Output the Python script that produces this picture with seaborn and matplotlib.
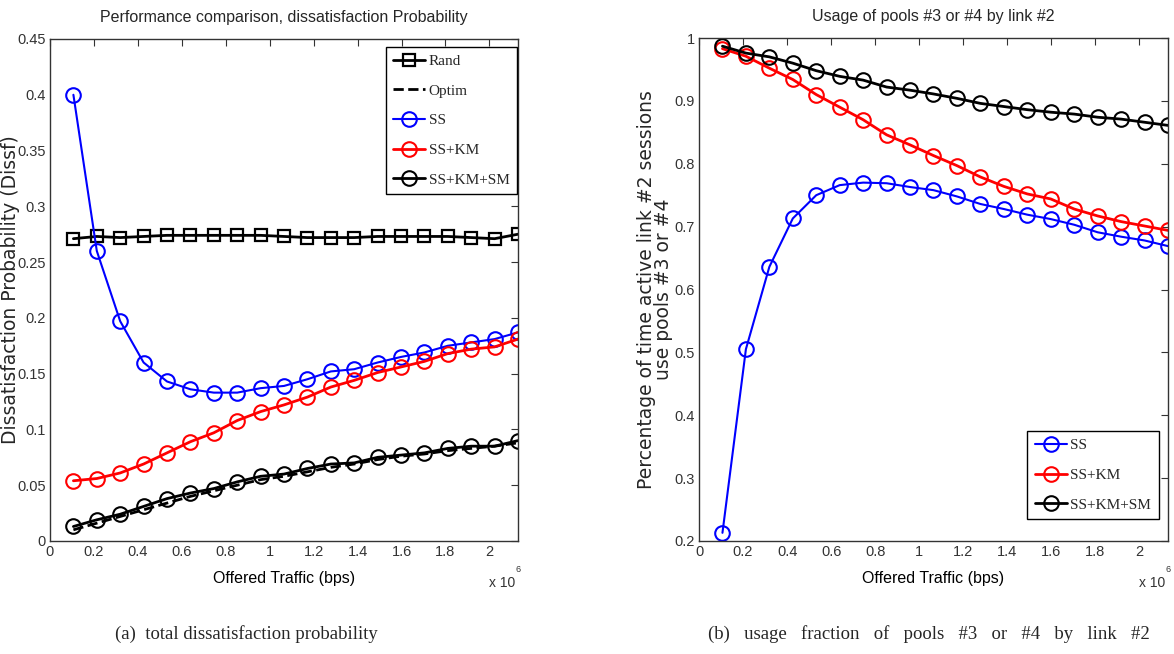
import numpy as np
import pandas as pd
import matplotlib
matplotlib.use("Agg")
import matplotlib.pyplot as plt
import seaborn as sns

# ---------------- data ----------------
traffic = [0.1065, 0.213, 0.3195, 0.426, 0.5325, 0.639, 0.7455, 0.852, 0.9585, 1.065,
           1.1715, 1.278, 1.3845, 1.491, 1.5975, 1.704, 1.8105, 1.917, 2.0235, 2.13]  # x 1e6 bps

rand_diss = [0.271, 0.273, 0.272, 0.273, 0.274, 0.274, 0.274, 0.274, 0.274, 0.273,
             0.272, 0.272, 0.272, 0.273, 0.273, 0.273, 0.273, 0.272, 0.271, 0.275]
optim_diss = [0.010, 0.016, 0.022, 0.028, 0.034, 0.040, 0.045, 0.050, 0.055, 0.058,
              0.062, 0.066, 0.069, 0.073, 0.076, 0.078, 0.081, 0.083, 0.085, 0.088]
ss_diss = [0.400, 0.260, 0.197, 0.160, 0.143, 0.136, 0.133, 0.133, 0.137, 0.139,
           0.145, 0.152, 0.154, 0.160, 0.165, 0.169, 0.175, 0.178, 0.181, 0.187]
sskm_diss = [0.054, 0.056, 0.061, 0.069, 0.079, 0.089, 0.097, 0.108, 0.116, 0.122,
             0.129, 0.138, 0.144, 0.151, 0.156, 0.161, 0.168, 0.172, 0.174, 0.181]
sskmsm_diss = [0.013, 0.019, 0.024, 0.031, 0.038, 0.043, 0.047, 0.053, 0.058, 0.060,
               0.065, 0.069, 0.070, 0.075, 0.077, 0.079, 0.083, 0.085, 0.085, 0.090]

ss_usage = [0.213, 0.505, 0.636, 0.713, 0.750, 0.766, 0.770, 0.769, 0.763, 0.758,
            0.748, 0.736, 0.728, 0.719, 0.712, 0.703, 0.691, 0.684, 0.678, 0.669]
sskm_usage = [0.983, 0.971, 0.952, 0.934, 0.910, 0.890, 0.870, 0.846, 0.830, 0.813,
              0.797, 0.779, 0.764, 0.752, 0.744, 0.728, 0.717, 0.708, 0.701, 0.694]
sskmsm_usage = [0.987, 0.976, 0.970, 0.960, 0.948, 0.939, 0.933, 0.922, 0.917, 0.911,
                0.904, 0.896, 0.891, 0.886, 0.882, 0.879, 0.874, 0.871, 0.866, 0.861]

xticks = [0, 0.2, 0.4, 0.6, 0.8, 1, 1.2, 1.4, 1.6, 1.8, 2]
xtick_labels = ["0", "0.2", "0.4", "0.6", "0.8", "1", "1.2", "1.4", "1.6", "1.8", "2"]
yticks_a = [0, 0.05, 0.1, 0.15, 0.2, 0.25, 0.3, 0.35, 0.4, 0.45]
yticks_a_labels = ["0", "0.05", "0.1", "0.15", "0.2", "0.25", "0.3", "0.35", "0.4", "0.45"]
yticks_b = [0.2, 0.3, 0.4, 0.5, 0.6, 0.7, 0.8, 0.9, 1.0]
yticks_b_labels = ["0.2", "0.3", "0.4", "0.5", "0.6", "0.7", "0.8", "0.9", "1"]

# ---------------- style ----------------
sns.set_style("white")
plt.rcParams["font.family"] = ["Liberation Sans", "DejaVu Sans"]
plt.rcParams["xtick.direction"] = "in"
plt.rcParams["ytick.direction"] = "in"
serif = ["Liberation Serif", "DejaVu Serif"]
wide_sans = ["DejaVu Sans"]

fig = plt.figure(figsize=(11.74, 6.54), dpi=100)
axA = fig.add_axes([50 / 1174, 1 - 541 / 654, 468 / 1174, 502 / 654])
axB = fig.add_axes([699 / 1174, 1 - 541 / 654, 469 / 1174, 503 / 654])

dfA = pd.DataFrame({"x": traffic, "Rand": rand_diss, "Optim": optim_diss, "SS": ss_diss,
                    "SS+KM": sskm_diss, "SS+KM+SM": sskmsm_diss})
dfB = pd.DataFrame({"x": traffic, "SS": ss_usage, "SS+KM": sskm_usage, "SS+KM+SM": sskmsm_usage})

circ = dict(marker="o", markersize=10.5, markerfacecolor="none", markeredgewidth=1.5)

sns.lineplot(data=dfA, x="x", y="Rand", ax=axA, color="black", lw=2, marker="s",
             markersize=9, markerfacecolor="none", markeredgecolor="black", markeredgewidth=1.6,
             label="Rand")
sns.lineplot(data=dfA, x="x", y="Optim", ax=axA, color="black", lw=2, linestyle="--", label="Optim")
sns.lineplot(data=dfA, x="x", y="SS", ax=axA, color="blue", lw=1.5, markeredgecolor="blue",
             label="SS", **circ)
sns.lineplot(data=dfA, x="x", y="SS+KM", ax=axA, color="red", lw=2, markeredgecolor="red",
             label="SS+KM", **circ)
sns.lineplot(data=dfA, x="x", y="SS+KM+SM", ax=axA, color="black", lw=2, markeredgecolor="black",
             label="SS+KM+SM", **circ)

sns.lineplot(data=dfB, x="x", y="SS", ax=axB, color="blue", lw=1.5, markeredgecolor="blue",
             label="SS", **circ)
sns.lineplot(data=dfB, x="x", y="SS+KM", ax=axB, color="red", lw=2, markeredgecolor="red",
             label="SS+KM", **circ)
sns.lineplot(data=dfB, x="x", y="SS+KM+SM", ax=axB, color="black", lw=2, markeredgecolor="black",
             label="SS+KM+SM", **circ)

for ax, yt, ytl, ylim in [(axA, yticks_a, yticks_a_labels, (0, 0.45)),
                          (axB, yticks_b, yticks_b_labels, (0.2, 1.0))]:
    ax.set_xlim(0, traffic[-1])
    ax.set_ylim(*ylim)
    ax.set_xticks(xticks)
    ax.set_xticklabels(xtick_labels)
    ax.set_yticks(yt)
    ax.set_yticklabels(ytl)
    ax.tick_params(which="both", top=True, right=True, length=5, width=0.8,
                   labelsize=10.5, colors="#333333", pad=3)
    for s in ax.spines.values():
        s.set_color("#333333")
        s.set_linewidth(1.0)
    ax.set_xlabel("Offered Traffic (bps)", fontsize=11.5, color="black")
    ax.xaxis.set_label_coords(0.5, -0.06)
    ax.text(0.995, -0.07, "x 10", transform=ax.transAxes, ha="right", va="top",
            fontsize=10, color="#333333")
    ax.text(0.995, -0.066, "6", transform=ax.transAxes, ha="left", va="bottom",
            fontsize=6.5, color="#333333")

axA.set_title("Performance comparison, dissatisfaction Probability", fontsize=11.5, pad=12)
axB.set_title("Usage of pools #3 or #4 by link #2", fontsize=11.5, pad=12)
axA.set_ylabel("Dissatisfaction Probability (Dissf)", fontsize=13.5, family=wide_sans)
axA.yaxis.set_label_coords(-0.064, 0.5)
axB.set_ylabel("Percentage of time active link #2 sessions\nuse pools #3 or #4",
               fontsize=13.5, family=wide_sans, linespacing=0.85)
axB.yaxis.set_label_coords(-0.056, 0.5)

leg_kw = dict(prop={"family": serif, "size": 11}, frameon=True, fancybox=False,
              edgecolor="black", framealpha=1, handlelength=2.1, handletextpad=0.2,
              borderpad=0.5, labelspacing=1.05, borderaxespad=0)
legA = axA.legend(loc="upper right", bbox_to_anchor=(0.998, 0.985), **leg_kw)
legA.get_frame().set_linewidth(1.0)
legB = axB.legend(loc="lower right", bbox_to_anchor=(0.98, 0.043), **leg_kw)
legB.get_frame().set_linewidth(1.0)

fig.text(246 / 1174, 1 - 634 / 654, "(a)  total dissatisfaction probability",
         ha="center", va="center", family=serif, fontsize=13.5)
fig.text(929 / 1174, 1 - 634 / 654,
         "(b)   usage   fraction   of   pools   #3   or   #4   by   link   #2",
         ha="center", va="center", family=serif, fontsize=13.5)

fig.savefig("out.png", dpi=100)
